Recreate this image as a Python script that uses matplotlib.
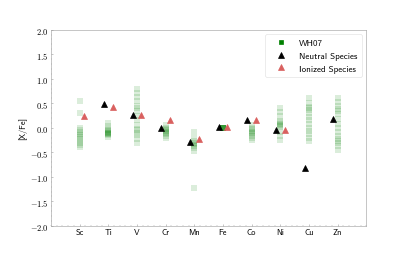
import numpy as np
import matplotlib
matplotlib.use("Agg")
import matplotlib.pyplot as plt
from matplotlib.ticker import AutoMinorLocator, FuncFormatter

plt.rcParams['font.family'] = ['cmss10', 'DejaVu Sans']
plt.rcParams['mathtext.fontset'] = 'cm'
plt.rcParams['axes.unicode_minus'] = False

elements = ['Sc', 'Ti', 'V', 'Cr', 'Mn', 'Fe', 'Co', 'Ni', 'Cu', 'Zn']

# WH07 model yields, several per element (drawn as faint stacked squares)
wh07 = {
    'Sc': [0.55, 0.30, 0.00, -0.04, -0.08, -0.12, -0.15, -0.18, -0.22, -0.26,
           -0.30, -0.35, -0.40],
    'Ti': [0.10, 0.04, -0.02, -0.05, -0.07, -0.08, -0.10, -0.10, -0.12, -0.13,
           -0.15, -0.18],
    'V':  [0.78, 0.70, 0.62, 0.55, 0.45, 0.40, 0.35, 0.25, 0.15, 0.05, -0.02,
           -0.05, -0.10, -0.15, -0.22, -0.30],
    'Cr': [0.05, 0.00, -0.03, -0.05, -0.07, -0.09, -0.11, -0.13, -0.16, -0.20],
    'Mn': [-0.08, -0.20, -0.26, -0.30, -0.33, -0.36, -0.38, -0.42, -0.48, -1.22],
    'Fe': [0.0, 0.0, 0.0, 0.0, 0.0, 0.0, 0.0, 0.0, 0.0, 0.0],
    'Co': [0.05, 0.00, -0.03, -0.06, -0.09, -0.11, -0.13, -0.16, -0.20, -0.24],
    'Ni': [0.40, 0.32, 0.24, 0.14, 0.11, 0.08, 0.06, 0.03, 0.01, -0.08, -0.16,
           -0.24],
    'Cu': [0.60, 0.50, 0.42, 0.40, 0.36, 0.30, 0.22, 0.15, 0.08, 0.00, -0.06,
           -0.12, -0.20, -0.27],
    'Zn': [0.60, 0.52, 0.44, 0.38, 0.34, 0.28, 0.18, 0.08, 0.00, -0.08, -0.16,
           -0.22, -0.26, -0.30, -0.38, -0.46],
}

# measured abundances
neutral = [np.nan, 0.48, 0.26, -0.01, -0.28, 0.01, 0.16, -0.05, -0.81, 0.18]
ionized = [0.25, 0.43, 0.26, 0.15, -0.23, 0.01, 0.15, -0.04, np.nan, np.nan]

red = '#d9605f'

fig, ax = plt.subplots(figsize=(8.14, 5.1), dpi=50)

x = np.arange(len(elements))
for i, el in enumerate(elements):
    vals = wh07[el]
    ax.plot([i] * len(vals), vals, 's', color='green', alpha=0.14,
            markersize=10, markeredgewidth=0, zorder=1)

ax.plot(x - 0.15, neutral, '^', color='black', markersize=8, zorder=3)
ax.plot(x + 0.15, ionized, '^', color=red, markersize=8, zorder=3)

# legend handles
h1, = ax.plot([], [], 's', color='green', markersize=7)
h2, = ax.plot([], [], '^', color='black', markersize=8)
h3, = ax.plot([], [], '^', color=red, markersize=8)
ax.legend([h1, h2, h3], ['WH07', 'Neutral Species', 'Ionized Species'],
          loc='upper right', fontsize=13, edgecolor='#dddddd',
          handlelength=2.4, borderpad=0.5)

ax.set_xlim(-1, 10)
ax.set_ylim(-2, 2)
ax.set_xticks(x)
ax.set_xticklabels(elements, fontsize=12)
ax.set_yticks(np.arange(-2, 2.01, 0.5))
ax.yaxis.set_major_formatter(FuncFormatter(lambda v, p: r'$%.1f$' % v))
ax.xaxis.set_minor_locator(AutoMinorLocator())
ax.yaxis.set_minor_locator(AutoMinorLocator())
ax.tick_params(which='both', direction='in', color='#999999', labelsize=12)
ax.tick_params(which='major', length=3)
ax.tick_params(which='minor', length=1.5)
ax.set_ylabel('[X/Fe]', fontsize=12)
for s in ax.spines.values():
    s.set_color('#999999')

plt.savefig('out.png', dpi=50)
